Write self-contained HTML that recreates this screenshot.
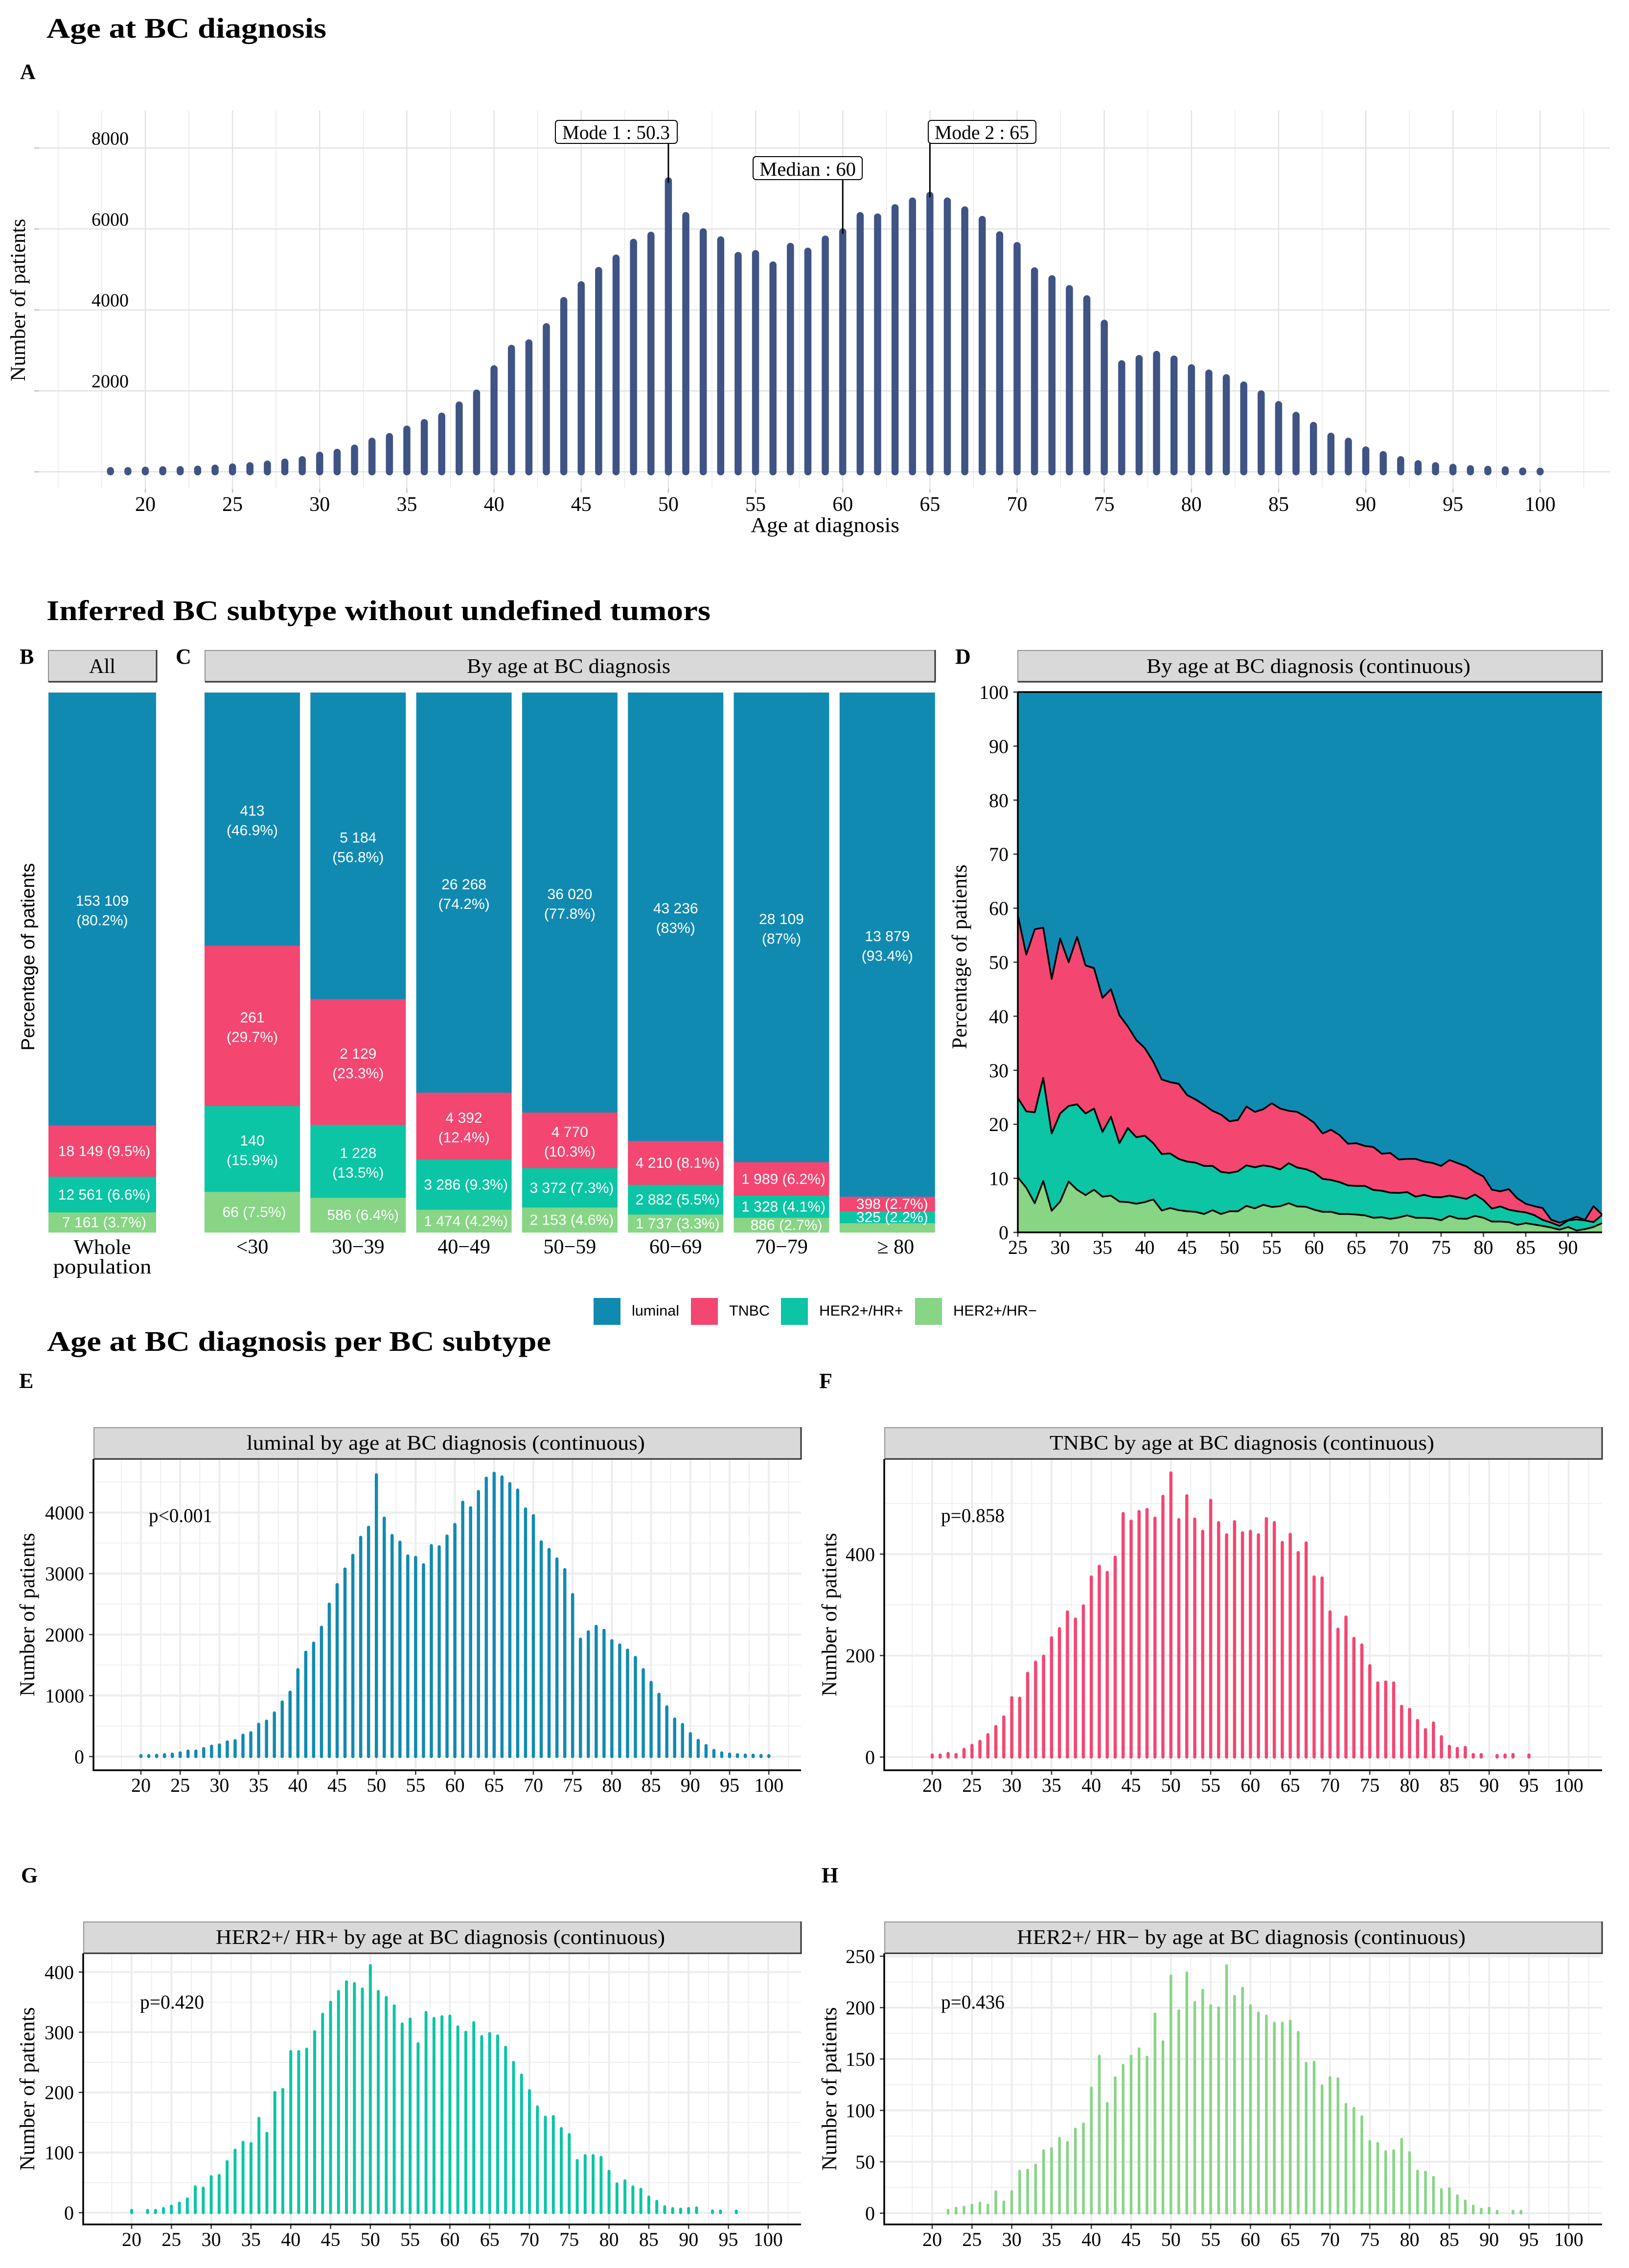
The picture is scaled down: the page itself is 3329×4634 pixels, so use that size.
<!DOCTYPE html>
<html lang="en">
<head>
<meta charset="utf-8">
<title>Age at BC diagnosis</title>
<style>
html,body{margin:0;padding:0;background:#fff;}
svg{display:block;}
text{font-family:"Liberation Serif",serif;fill:#000;}
.title{font-size:58px;font-weight:bold;}
.letter{font-size:44px;font-weight:bold;}
.axis-title{font-size:43px;}
.strip-text{font-size:42px;}
.sans{font-family:"Liberation Sans",sans-serif;}
.legend-text{font-size:30px;font-family:"Liberation Sans",sans-serif;}
.anno{font-size:40px;}
.pval{font-size:40px;}
</style>
</head>
<body>
<svg id="figure" xmlns="http://www.w3.org/2000/svg" width="3329" height="4634" viewBox="0 0 3329 4634">
<rect x="0" y="0" width="3329" height="4634" fill="#fff"/>

<text class="title" x="95" y="77" textLength="572" lengthAdjust="spacingAndGlyphs">Age at BC diagnosis</text>
<text class="letter" x="41" y="161">A</text>
<g id="panel-a"></g>
<g id="panel-a-notes">
  <rect x="1135" y="246" width="249" height="47" rx="6" fill="#fff" stroke="#000" stroke-width="2"/>
  <text class="anno" x="1149" y="284" textLength="220" lengthAdjust="spacingAndGlyphs">Mode 1 : 50.3</text>
  <rect x="1539" y="320" width="223" height="47" rx="6" fill="#fff" stroke="#000" stroke-width="2"/>
  <text class="anno" x="1552" y="359" textLength="197" lengthAdjust="spacingAndGlyphs">Median : 60</text>
  <rect x="1897" y="246" width="220" height="47" rx="6" fill="#fff" stroke="#000" stroke-width="2"/>
  <text class="anno" x="1910" y="284" textLength="193" lengthAdjust="spacingAndGlyphs">Mode 2 : 65</text>
</g>
<text class="axis-title" transform="rotate(-90 51 613)" x="51" y="613" text-anchor="middle" textLength="332" lengthAdjust="spacingAndGlyphs">Number of patients</text>
<text class="axis-title" x="1534" y="1087" textLength="304" lengthAdjust="spacingAndGlyphs">Age at diagnosis</text>

<text class="title" x="95" y="1267" textLength="1357" lengthAdjust="spacingAndGlyphs">Inferred BC subtype without undefined tumors</text>

<text class="letter" x="40" y="1356">B</text>
<text class="letter" x="359" y="1356">C</text>
<text class="letter" x="1952" y="1356">D</text>

<g id="strips-mid">
  <rect x="99" y="1329" width="221" height="64" fill="#d9d9d9" stroke="#777" stroke-width="1.5"/>
  <path d="M320 1328V1393H99" fill="none" stroke="#333" stroke-width="3"/>
  <text class="strip-text" x="209" y="1375" text-anchor="middle" textLength="54" lengthAdjust="spacingAndGlyphs">All</text>
  <rect x="419" y="1329" width="1492" height="64" fill="#d9d9d9" stroke="#777" stroke-width="1.5"/>
  <path d="M1911 1328V1393H419" fill="none" stroke="#333" stroke-width="3"/>
  <text class="strip-text" x="954" y="1375" textLength="416" lengthAdjust="spacingAndGlyphs">By age at BC diagnosis</text>
  <rect x="2080" y="1329" width="1194" height="64" fill="#d9d9d9" stroke="#777" stroke-width="1.5"/>
  <path d="M3274 1328V1393H2080" fill="none" stroke="#333" stroke-width="3"/>
  <text class="strip-text" x="2343" y="1375" textLength="662" lengthAdjust="spacingAndGlyphs">By age at BC diagnosis (continuous)</text>
</g>

<text class="sans" style="font-size:38px" transform="rotate(-90 70 1955)" x="70" y="1955" text-anchor="middle" textLength="383" lengthAdjust="spacingAndGlyphs">Percentage of patients</text>
<g id="panel-b"></g>
<text style="font-size:42px" x="209" y="2562" text-anchor="middle" textLength="117" lengthAdjust="spacingAndGlyphs">Whole</text>
<text style="font-size:42px" x="209" y="2602" text-anchor="middle" textLength="201" lengthAdjust="spacingAndGlyphs">population</text>
<g id="panel-c"></g>

<text class="axis-title" transform="rotate(-90 1975 1955)" x="1975" y="1955" text-anchor="middle" textLength="377" lengthAdjust="spacingAndGlyphs">Percentage of patients</text>
<g id="panel-d"></g>

<g id="legend">
  <rect x="1213" y="2652" width="55" height="55" fill="#118ab2"/>
  <text class="legend-text" x="1291" y="2688" textLength="97" lengthAdjust="spacingAndGlyphs">luminal</text>
  <rect x="1412" y="2652" width="55" height="55" fill="#f34671"/>
  <text class="legend-text" x="1490" y="2688" textLength="83" lengthAdjust="spacingAndGlyphs">TNBC</text>
  <rect x="1596" y="2652" width="55" height="55" fill="#0bc5a5"/>
  <text class="legend-text" x="1674" y="2688" textLength="172" lengthAdjust="spacingAndGlyphs">HER2+/HR+</text>
  <rect x="1870" y="2652" width="55" height="55" fill="#87d585"/>
  <text class="legend-text" x="1948" y="2688" textLength="171" lengthAdjust="spacingAndGlyphs">HER2+/HR−</text>
</g>

<text class="title" x="96" y="2760" textLength="1030" lengthAdjust="spacingAndGlyphs">Age at BC diagnosis per BC subtype</text>

<text class="letter" x="39" y="2836">E</text>
<text class="letter" x="1674" y="2836">F</text>
<text class="letter" x="43" y="3846">G</text>
<text class="letter" x="1679" y="3846">H</text>

<g id="panel-e"></g>
<g id="panel-f"></g>
<g id="panel-g"></g>
<g id="panel-h"></g>

<rect x="192" y="2917" width="1445" height="64" fill="#d9d9d9" stroke="#777" stroke-width="1.5"/>
<path d="M1637 2916V2981H192" fill="none" stroke="#333" stroke-width="3"/>
<text class="strip-text" x="504" y="2962" textLength="814" lengthAdjust="spacingAndGlyphs">luminal by age at BC diagnosis (continuous)</text>
<text class="pval" x="304" y="3110" textLength="130" lengthAdjust="spacingAndGlyphs">p&lt;0.001</text>
<text class="axis-title" transform="rotate(-90 70 3299)" x="70" y="3299" text-anchor="middle" textLength="334" lengthAdjust="spacingAndGlyphs">Number of patients</text>

<rect x="1808" y="2917" width="1466" height="64" fill="#d9d9d9" stroke="#777" stroke-width="1.5"/>
<path d="M3274 2916V2981H1808" fill="none" stroke="#333" stroke-width="3"/>
<text class="strip-text" x="2145" y="2962" textLength="786" lengthAdjust="spacingAndGlyphs">TNBC by age at BC diagnosis (continuous)</text>
<text class="pval" x="1923" y="3110" textLength="130" lengthAdjust="spacingAndGlyphs">p=0.858</text>
<text class="axis-title" transform="rotate(-90 1709 3299)" x="1709" y="3299" text-anchor="middle" textLength="334" lengthAdjust="spacingAndGlyphs">Number of patients</text>

<rect x="171" y="3927" width="1466" height="64" fill="#d9d9d9" stroke="#777" stroke-width="1.5"/>
<path d="M1637 3926V3991H171" fill="none" stroke="#333" stroke-width="3"/>
<text class="strip-text" x="441" y="3972" textLength="918" lengthAdjust="spacingAndGlyphs">HER2+/ HR+ by age at BC diagnosis (continuous)</text>
<text class="pval" x="286" y="4104" textLength="131" lengthAdjust="spacingAndGlyphs">p=0.420</text>
<text class="axis-title" transform="rotate(-90 70 4268)" x="70" y="4268" text-anchor="middle" textLength="334" lengthAdjust="spacingAndGlyphs">Number of patients</text>

<rect x="1808" y="3927" width="1466" height="64" fill="#d9d9d9" stroke="#777" stroke-width="1.5"/>
<path d="M3274 3926V3991H1808" fill="none" stroke="#333" stroke-width="3"/>
<text class="strip-text" x="2078" y="3972" textLength="917" lengthAdjust="spacingAndGlyphs">HER2+/ HR− by age at BC diagnosis (continuous)</text>
<text class="pval" x="1923" y="4104" textLength="130" lengthAdjust="spacingAndGlyphs">p=0.436</text>
<text class="axis-title" transform="rotate(-90 1709 4268)" x="1709" y="4268" text-anchor="middle" textLength="334" lengthAdjust="spacingAndGlyphs">Number of patients</text>
</svg>

<script>
// ---------- Panel A data ----------
const aAges = [18,19,20,21,22,23,24,25,26,27,28,29,30,31,32,33,34,35,36,37,38,39,40,41,42,43,44,45,46,47,48,49,50,51,52,53,54,55,56,57,58,59,60,61,62,63,64,65,66,67,68,69,70,71,72,73,74,75,76,77,78,79,80,81,82,83,84,85,86,87,88,89,90,91,92,93,94,95,96,97,98,99,100];
const aPatients = [30,30,40,50,55,65,90,120,150,190,240,300,410,480,585,755,870,1055,1215,1375,1650,1945,2545,3050,3185,3585,4230,4620,4975,5280,5670,5845,7190,6330,5930,5730,5345,5390,5110,5570,5450,5750,5930,6330,6295,6525,6690,6830,6690,6470,6235,5855,5590,4965,4770,4525,4275,3670,2670,2800,2900,2785,2570,2440,2325,2145,1925,1660,1395,1145,880,755,540,425,300,200,150,110,75,60,50,20,15];
const aXTicks = [20,25,30,35,40,45,50,55,60,65,70,75,80,85,90,95,100];
const aYTicks = [0,2000,4000,6000,8000];
const aYTickLabels = ['','2000','4000','6000','8000'];
const aNotedAges = [50,60,65];

// ---------- Panels B and C data ----------
const bLuminalN = ['153 109'];
const bTnbcN = ['18 149'];
const bHer2PosN = ['12 561'];
const bHer2NegN = ['7 161'];
const bLuminalPct = [80.2];
const bTnbcPct = [9.5];
const bHer2PosPct = [6.6];
const bHer2NegPct = [3.7];
const cCategories = ['<30','30−39','40−49','50−59','60−69','70−79','≥ 80'];
const cLuminalN = ['413','5 184','26 268','36 020','43 236','28 109','13 879'];
const cTnbcN = ['261','2 129','4 392','4 770','4 210','1 989','398'];
const cHer2PosN = ['140','1 228','3 286','3 372','2 882','1 328','325'];
const cHer2NegN = ['66','586','1 474','2 153','1 737','886','250'];
const cLuminalPct = [46.9,56.8,74.2,77.8,83,87,93.4];
const cTnbcPct = [29.7,23.3,12.4,10.3,8.1,6.2,2.7];
const cHer2PosPct = [15.9,13.5,9.3,7.3,5.5,4.1,2.2];
const cHer2NegPct = [7.5,6.4,4.2,4.6,3.3,2.7,1.7];

// ---------- Panel D data (cumulative stack tops) ----------
const dAges = [25,26,27,28,29,30,31,32,33,34,35,36,37,38,39,40,41,42,43,44,45,46,47,48,49,50,51,52,53,54,55,56,57,58,59,60,61,62,63,64,65,66,67,68,69,70,71,72,73,74,75,76,77,78,79,80,81,82,83,84,85,86,87,88,89,90,91,92,93,94];
const dHer2NegTop = [10.2,8.25,5.4,9.5,4.0,5.7,9.4,7.9,6.9,7.9,6.6,6.8,5.7,5.6,5.3,5.6,6.1,4.05,4.5,4.1,3.9,3.8,3.4,4.1,3.4,3.9,3.9,4.9,4.45,5.1,4.7,4.85,5.4,4.8,4.75,4.2,3.8,3.8,3.4,3.4,3.3,3.15,2.7,2.8,2.5,2.75,3.15,2.7,2.7,2.6,2.25,3.05,2.55,2.5,3.05,2.7,2.0,2.0,1.9,1.4,1.7,1.45,1.2,0.9,0.5,1.0,0.35,0.6,1.0,1.7];
const dHer2PosTop = [24.9,22.4,22.2,28.6,18.3,22,23.4,23.7,22,22.9,18.6,21.4,16.5,19.3,17.6,17.9,16.5,14.5,14.6,13.6,13.1,12.9,12.3,12.3,11.2,11,11.3,12.4,12.05,12.4,12.15,11.65,12.8,12,11.7,11.1,9.9,9.7,9.3,8.7,8.6,8.6,7.85,7.7,7.35,7.3,7.45,6.6,6.95,6.55,6.5,6.8,6.5,6.2,7,6,4.4,4.8,4.2,3.9,3.7,3.2,2.3,1.8,1.2,2.2,2.4,2.2,1.9,3.2];
const dTnbcTop = [58.7,51.4,56.1,56.4,46.9,54.4,50,54.7,49.4,48.9,43.4,45,40.2,38.1,35.6,34.1,31.6,28.3,27.8,27.5,25.4,24.6,23.6,22.5,21.8,20.55,20.8,23.3,22.3,22.8,23.9,22.9,22.5,22.3,21.4,20.3,18.3,19,18,16.4,16.5,16,15.8,14.55,14.7,13.5,13.6,13.6,13.1,12.85,12.3,13.4,12.8,12.2,11.15,10.35,7.9,7.6,8,6.3,5.3,4.85,4.5,2.35,1.8,2.3,2.9,2.3,4.85,3.3];
const dLuminalTop = [100,100,100,100,100,100,100,100,100,100,100,100,100,100,100,100,100,100,100,100,100,100,100,100,100,100,100,100,100,100,100,100,100,100,100,100,100,100,100,100,100,100,100,100,100,100,100,100,100,100,100,100,100,100,100,100,100,100,100,100,100,100,100,100,100,100,100,100,100,100];
const dXTicks = [25,30,35,40,45,50,55,60,65,70,75,80,85,90];
const dYTicks = [0,10,20,30,40,50,60,70,80,90,100];

// ---------- Panels E-H data ----------
const histAges = [20,21,22,23,24,25,26,27,28,29,30,31,32,33,34,35,36,37,38,39,40,41,42,43,44,45,46,47,48,49,50,51,52,53,54,55,56,57,58,59,60,61,62,63,64,65,66,67,68,69,70,71,72,73,74,75,76,77,78,79,80,81,82,83,84,85,86,87,88,89,90,91,92,93,94,95,96,97,98,99,100];
const histXTicks = [20,25,30,35,40,45,50,55,60,65,70,75,80,85,90,95,100];
const luminalCounts = [15,15,20,30,40,60,90,90,130,170,190,240,260,350,390,530,580,715,895,1055,1425,1710,1860,2120,2500,2820,3075,3300,3595,3760,4620,3910,3625,3515,3290,3265,3145,3460,3440,3615,3805,4170,4080,4345,4565,4645,4585,4475,4370,4060,3950,3520,3395,3240,3065,2655,1925,2045,2135,2070,1900,1830,1745,1625,1425,1215,1020,815,615,525,375,265,180,100,60,40,30,25,22,18,15];
const tnbcCounts = [4,4,7,5,15,23,31,44,60,79,117,116,165,187,199,235,253,286,272,298,355,376,364,394,480,465,484,488,471,514,560,468,515,469,445,506,462,438,464,442,445,438,470,462,423,439,403,422,355,353,286,252,276,234,221,180,146,148,146,100,94,72,54,67,40,21,17,19,5,5,null,3,4,5,null,4,null,null,null,null,null];
const her2PosCounts = [4,null,4,4,7,11,16,23,43,41,60,62,85,104,117,115,157,132,200,205,268,268,272,301,330,350,368,384,381,372,411,368,358,344,314,322,281,333,323,326,327,309,300,316,293,298,294,275,250,229,203,176,159,160,140,130,87,95,95,92,69,48,53,43,39,26,19,10,7,6,7,8,null,3,3,null,3,null,null,null,null];
const her2NegCounts = [null,null,3,5,6,8,10,8,21,11,21,41,42,47,61,63,73,69,82,87,122,153,107,132,144,153,160,152,194,167,231,197,234,205,217,202,200,241,211,219,202,195,192,185,185,187,176,146,147,124,132,131,106,102,94,70,68,60,61,72,59,41,40,35,23,24,17,12,7,4,5,2,null,2,2,null,null,null,null,null,null];
const eYTicks = [0,1000,2000,3000,4000];
const eYMinor = [500,1500,2500,3500,4500];
const fYTicks = [0,200,400];
const fYMinor = [100,300,500];
const gYTicks = [0,100,200,300,400];
const gYMinor = [50,150,250,350];
const hYTicks = [0,50,100,150,200,250];
const hYMinor = [25,75,125,175,225];

// ---------- Shared colours ----------
const colLuminal = '#118ab2';
const colTnbc = '#f34671';
const colHer2Pos = '#0bc5a5';
const colHer2Neg = '#87d585';
const SVGNS = 'http://www.w3.org/2000/svg';

function mk(parent, tag, attrs) {
  const el = document.createElementNS(SVGNS, tag);
  for (const k in attrs) el.setAttribute(k, attrs[k]);
  parent.appendChild(el);
  return el;
}

// ---------- Panel A ----------
(function drawA() {
  const g = document.getElementById('panel-a');
  const notes = document.getElementById('panel-a-notes');
  const xA = a => 297 + (a - 20) * 35.63;
  const yA = v => 964 - v * 0.0827;
  for (let m = 15; m <= 102.5; m += 2.5) {
    const major = m % 5 === 0 && m >= 20 && m <= 100;
    const gl = mk(g, 'line', {x1: xA(m), x2: xA(m), y1: 226, y2: 997, stroke: '#e3e3e3', 'stroke-width': major ? 2.5 : 1.2});
    
    
  }
  aYTicks.forEach((t, i) => {
    const gl = mk(g, 'line', {x1: 70, x2: 3290, y1: yA(t), y2: yA(t), stroke: '#e3e3e3', 'stroke-width': 2.5});
    
    
    const tk = mk(g, 'line', {x1: 70, x2: 80, y1: yA(t), y2: yA(t), stroke: '#c4c4c4', 'stroke-width': 2.5});
    
    
    if (aYTickLabels[i]) {
      const lb = mk(g, 'text', {x: 263, y: yA(t) - 7, 'text-anchor': 'end', 'font-size': 38});
      lb.textContent = aYTickLabels[i];
      
      
    }
  });
  aXTicks.forEach(t => {
    const tk = mk(g, 'line', {x1: xA(t), x2: xA(t), y1: 998, y2: 1007, stroke: '#c4c4c4', 'stroke-width': 2.5});
    
    
    const lb = mk(g, 'text', {x: xA(t), y: 1044, 'text-anchor': 'middle', 'font-size': 42});
    lb.textContent = t;
    
    
  });
  aAges.forEach((a, i) => {
    const b = mk(g, 'line', {x1: xA(a), x2: xA(a), y1: yA(0), y2: yA(aPatients[i]), stroke: '#3f5384', 'stroke-width': 14.5, 'stroke-linecap': 'round'});
    
    
  });
  const noteTops = {50: 293, 60: 367, 65: 293};
  aNotedAges.forEach(a => {
    const v = aPatients[aAges.indexOf(a)];
    const l = mk(g, 'line', {x1: xA(a), x2: xA(a), y1: noteTops[a], y2: yA(v) + 4, stroke: '#000', 'stroke-width': 3});
    
    
  });
  g.parentNode.insertBefore(g, notes);
})();

// ---------- Panels B and C ----------
function drawStack(g, cx, w, nums, pcts) {
  const colors = [colLuminal, colTnbc, colHer2Pos, colHer2Neg];
  const keys = ['luminal', 'tnbc', 'her2-hr-pos', 'her2-hr-neg'];
  const sum = pcts.reduce((s, p) => s + p, 0);
  const yS = p => 1415 + (p / sum) * 1103;
  let acc = 0;
  pcts.forEach((p, i) => {
    const y1 = yS(acc);
    const y2 = yS(acc + p);
    acc += p;
    const r = mk(g, 'rect', {x: cx - w / 2, y: y1, width: w, height: y2 - y1 + 0.4, fill: colors[i]});
    
    
  });
  acc = 0;
  pcts.forEach((p, i) => {
    const mid = (yS(acc) + yS(acc + p)) / 2;
    acc += p;
    if (p < 2) return;
    const two = p >= 10;
    const pctText = '(' + p + '%)';
    if (two) {
      const a = mk(g, 'text', {x: cx, y: mid - 7, 'text-anchor': 'middle', 'font-size': 30, fill: '#fff', class: 'sans', style: 'fill:#fff'});
      a.textContent = nums[i];
      
      
      const b = mk(g, 'text', {x: cx, y: mid + 33, 'text-anchor': 'middle', 'font-size': 30, fill: '#fff', class: 'sans', style: 'fill:#fff'});
      b.textContent = pctText;
      
      
    } else {
      const txt = nums[i] + ' ' + pctText;
      const dx = txt.length === 10 ? 10 : 4;
      const a = mk(g, 'text', {x: cx + dx, y: mid + 10, 'text-anchor': 'middle', 'font-size': 30, fill: '#fff', class: 'sans', style: 'fill:#fff'});
      a.textContent = txt;
      
      
    }
  });
}
drawStack(document.getElementById('panel-b'), 209, 220, [bLuminalN[0], bTnbcN[0], bHer2PosN[0], bHer2NegN[0]], [bLuminalPct[0], bTnbcPct[0], bHer2PosPct[0], bHer2NegPct[0]]);
(function drawC() {
  const g = document.getElementById('panel-c');
  const xC = i => 515.5 + i * 216.3;
  cCategories.forEach((c, i) => {
    drawStack(g, xC(i), 195, [cLuminalN[i], cTnbcN[i], cHer2PosN[i], cHer2NegN[i]], [cLuminalPct[i], cTnbcPct[i], cHer2PosPct[i], cHer2NegPct[i]]);
    const lb = mk(g, 'text', {x: xC(i) + (c.charAt(0) === '≥' ? 17 : 0), y: 2561, 'text-anchor': 'middle', 'font-size': 42});
    lb.textContent = c;
    
    
  });
})();

// ---------- Panel D ----------
(function drawD() {
  const g = document.getElementById('panel-d');
  const xD = a => 2080 + (a - 25) * 17.3;
  const yD = v => 2518 - v * 11.04;
  const layers = [
    {key: 'luminal', top: dLuminalTop, color: colLuminal},
    {key: 'tnbc', top: dTnbcTop, color: colTnbc},
    {key: 'her2-hr-pos', top: dHer2PosTop, color: colHer2Pos},
    {key: 'her2-hr-neg', top: dHer2NegTop, color: colHer2Neg}
  ];
  layers.forEach(l => {
    const pts = dAges.map((a, i) => xD(a).toFixed(1) + ',' + yD(l.top[i]).toFixed(1));
    const area = mk(g, 'polygon', {points: xD(dAges[0]) + ',' + yD(0) + ' ' + pts.join(' ') + ' ' + xD(dAges[dAges.length - 1]) + ',' + yD(0), fill: l.color});
    
    
  });
  layers.forEach(l => {
    const pts = dAges.map((a, i) => xD(a).toFixed(1) + ',' + yD(l.top[i]).toFixed(1));
    const line = mk(g, 'polyline', {points: pts.join(' '), fill: 'none', stroke: '#000', 'stroke-width': 3.5, 'stroke-linejoin': 'round'});
    
    
  });
  dYTicks.forEach(t => {
    const tk = mk(g, 'line', {x1: 2071, x2: 2080, y1: yD(t), y2: yD(t), stroke: '#333', 'stroke-width': 2.5});
    
    
    const lb = mk(g, 'text', {x: 2061, y: yD(t) + 14, 'text-anchor': 'end', 'font-size': 40});
    lb.textContent = t;
    
    
  });
  dXTicks.forEach(t => {
    const tk = mk(g, 'line', {x1: xD(t), x2: xD(t), y1: 2518, y2: 2527, stroke: '#333', 'stroke-width': 2.5});
    
    
    const lb = mk(g, 'text', {x: xD(t), y: 2562, 'text-anchor': 'middle', 'font-size': 40});
    lb.textContent = t;
    
    
  });
  const ax = mk(g, 'path', {d: 'M2080 1414V2518H3274', fill: 'none', stroke: '#000', 'stroke-width': 3.5});
  
  
})();

// ---------- Panels E-H ----------
function drawHist(g, o) {
  const xH = a => o.x20 + (a - 20) * o.kx;
  const yH = v => o.y0 - v * o.ky;
  for (let m = 17.5; m <= 102.5; m += 5) {
    const gl = mk(g, 'line', {x1: xH(m), x2: xH(m), y1: o.top, y2: o.bottom, stroke: '#efefef', 'stroke-width': 2});
    
    
  }
  o.minor.forEach(t => {
    const gl = mk(g, 'line', {x1: o.left, x2: o.right, y1: yH(t), y2: yH(t), stroke: '#efefef', 'stroke-width': 2});
    
    
  });
  histXTicks.forEach(t => {
    const gl = mk(g, 'line', {x1: xH(t), x2: xH(t), y1: o.top, y2: o.bottom, stroke: '#ededed', 'stroke-width': 4});
    
    
  });
  o.ticks.forEach(t => {
    const gl = mk(g, 'line', {x1: o.left, x2: o.right, y1: yH(t), y2: yH(t), stroke: '#ededed', 'stroke-width': 4});
    
    
  });
  histAges.forEach((a, i) => {
    const v = o.values[i];
    if (v === null) return;
    const b = mk(g, 'line', {x1: xH(a), x2: xH(a), y1: yH(0), y2: yH(v), stroke: o.color, 'stroke-width': o.barWidth, 'stroke-linecap': 'round'});
    
    
  });
  o.ticks.forEach(t => {
    const tk = mk(g, 'line', {x1: o.left - 9, x2: o.left, y1: yH(t), y2: yH(t), stroke: '#333', 'stroke-width': 2.5});
    
    
    const lb = mk(g, 'text', {x: o.left - 19, y: yH(t) + 14, 'text-anchor': 'end', 'font-size': 40});
    lb.textContent = t;
    
    
  });
  histXTicks.forEach(t => {
    const tk = mk(g, 'line', {x1: xH(t), x2: xH(t), y1: o.bottom, y2: o.bottom + 9, stroke: '#333', 'stroke-width': 2.5});
    
    
    const lb = mk(g, 'text', {x: xH(t), y: o.bottom + 44, 'text-anchor': 'middle', 'font-size': 40});
    lb.textContent = t;
    
    
  });
  const ax = mk(g, 'path', {d: 'M' + o.left + ' ' + o.top + 'V' + o.bottom + 'H' + o.right, fill: 'none', stroke: '#000', 'stroke-width': 3.5});
  
  
}
drawHist(document.getElementById('panel-e'), {values: luminalCounts, ticks: eYTicks, minor: eYMinor, color: colLuminal, barWidth: 6.5, x20: 288, kx: 16.04, y0: 3589, ky: 0.1246, left: 191, right: 1637, top: 2981, bottom: 3617});
drawHist(document.getElementById('panel-f'), {values: tnbcCounts, ticks: fYTicks, minor: fYMinor, color: colTnbc, barWidth: 6.5, x20: 1905, kx: 16.26, y0: 3590, ky: 1.0365, left: 1807, right: 3274, top: 2981, bottom: 3617});
drawHist(document.getElementById('panel-g'), {values: her2PosCounts, ticks: gYTicks, minor: gYMinor, color: colHer2Pos, barWidth: 6, x20: 269, kx: 16.26, y0: 4521, ky: 1.229, left: 170, right: 1637, top: 3991, bottom: 4545});
drawHist(document.getElementById('panel-h'), {values: her2NegCounts, ticks: hYTicks, minor: hYMinor, color: colHer2Neg, barWidth: 5.5, x20: 1905, kx: 16.26, y0: 4522, ky: 2.1, left: 1807, right: 3274, top: 3991, bottom: 4545});
</script>
</body>
</html>
